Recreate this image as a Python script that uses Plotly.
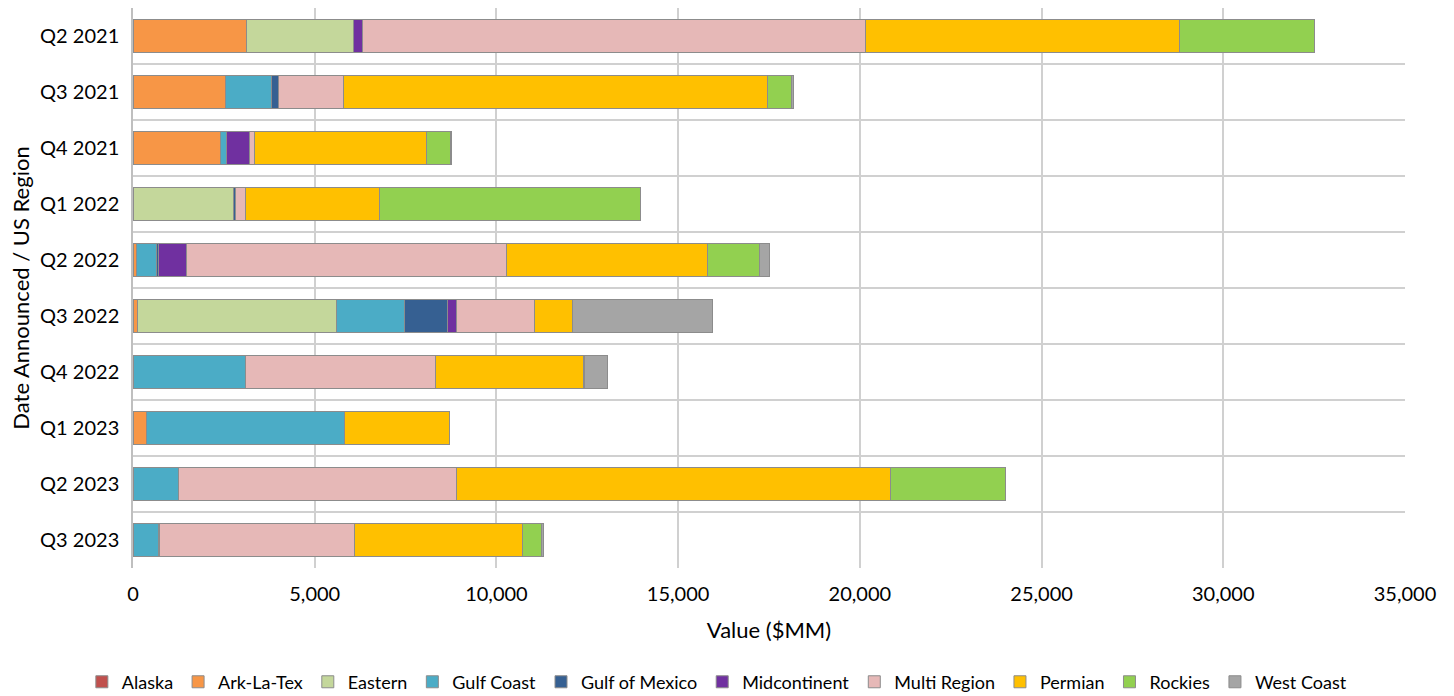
import plotly.graph_objects as go

quarters = ["Q2 2021", "Q3 2021", "Q4 2021", "Q1 2022", "Q2 2022",
            "Q3 2022", "Q4 2022", "Q1 2023", "Q2 2023", "Q3 2023"]

alaska         = [0, 0, 0, 0, 0, 0, 0, 0, 0, 0]
ark_la_tex     = [3118, 2540, 2394, 0, 100, 118, 0, 358, 0, 0]
eastern        = [2945, 0, 0, 2752, 0, 5487, 0, 0, 0, 0]
gulf_coast     = [0, 1276, 174, 0, 552, 1871, 3101, 5467, 1257, 697]
gulf_of_mexico = [0, 174, 0, 64, 40, 1173, 0, 0, 0, 30]
midcontinent   = [240, 0, 643, 0, 780, 239, 0, 0, 0, 0]
multi_region   = [13863, 1808, 138, 285, 8816, 2147, 5218, 0, 7631, 5363]
permian        = [8620, 11657, 4722, 3668, 5521, 1054, 4064, 2871, 11952, 4614]
rockies        = [3717, 671, 661, 7201, 1431, 0, 40, 0, 3164, 523]
west_coast     = [0, 44, 33, 0, 285, 3863, 620, 0, 0, 55]

series = [
    ("Alaska", alaska, "#C0504D"),
    ("Ark-La-Tex", ark_la_tex, "#F79646"),
    ("Eastern", eastern, "#C4D79B"),
    ("Gulf Coast", gulf_coast, "#4BACC6"),
    ("Gulf of Mexico", gulf_of_mexico, "#366092"),
    ("Midcontinent", midcontinent, "#7030A0"),
    ("Multi Region", multi_region, "#E6B8B7"),
    ("Permian", permian, "#FFC000"),
    ("Rockies", rockies, "#92D050"),
    ("West Coast", west_coast, "#A5A5A5"),
]

x_ticks = [0, 5000, 10000, 15000, 20000, 25000, 30000, 35000]

ypos = list(range(len(quarters)))
FONT = "Lato, 'Open Sans', sans-serif"

fig = go.Figure()
for name, vals, color in series:
    fig.add_trace(go.Bar(
        y=ypos, x=vals, name=name, orientation="h",
        marker=dict(color=color, line=dict(color="#8C8C8C", width=1)),
    ))

fig.update_layout(
    barmode="stack",
    bargap=0.4,
    width=1454, height=696,
    margin=dict(l=133, r=49, t=8, b=128),
    plot_bgcolor="white", paper_bgcolor="white",
    font=dict(family=FONT, size=20, color="#000000"),
    legend=dict(orientation="h", x=0.459, xanchor="center",
                yref="container", y=0.02, yanchor="middle",
                font=dict(size=18), traceorder="normal",
                itemwidth=30, entrywidth=0),
    xaxis=dict(range=[0, 35000], tickvals=x_ticks, tickformat=",",
               showgrid=True, gridcolor="#D0D0D0", gridwidth=1.5,
               zeroline=False, showline=False,
               tickfont=dict(size=20), ticklabelstandoff=12,
               title=dict(text="Value ($MM)", font=dict(size=22), standoff=18)),
    yaxis=dict(range=[len(quarters) - 0.5, -0.5],
               tickvals=ypos, ticktext=quarters,
               showgrid=False, zeroline=False,
               showline=True, linecolor="#BFBFBF", linewidth=1.5,
               ticks="", ticklen=0,
               tickfont=dict(size=20), ticklabelstandoff=8,
               minor=dict(tick0=0.5, dtick=1, showgrid=True,
                          gridcolor="#D0D0D0", gridwidth=1.5),
               title=dict(text="Date Announced / US Region", font=dict(size=22), standoff=4)),
)

fig.write_html("out.html")
